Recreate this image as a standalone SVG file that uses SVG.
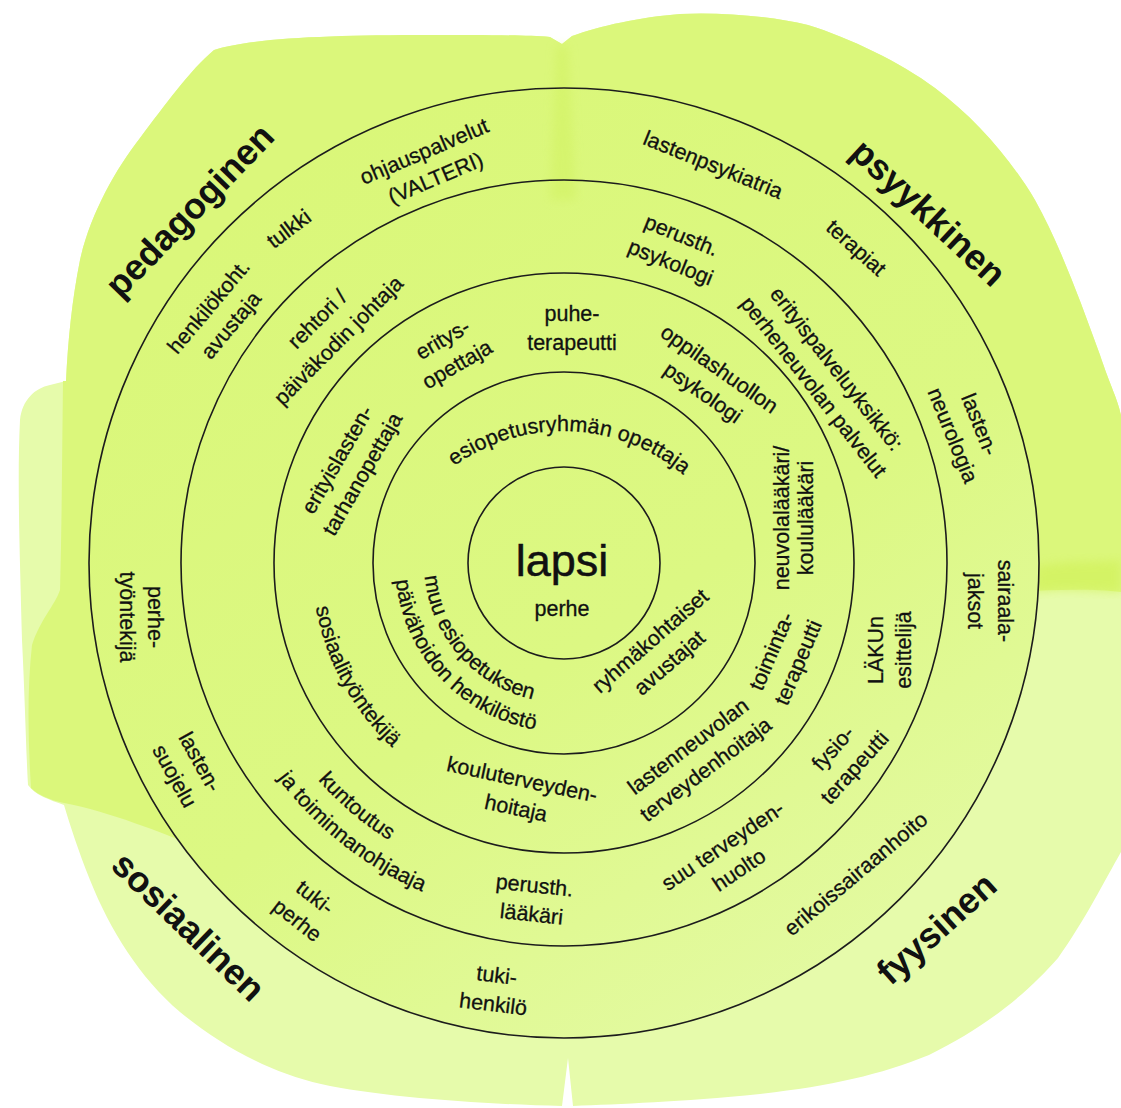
<svg xmlns="http://www.w3.org/2000/svg" width="1121" height="1108" viewBox="0 0 1121 1108">
<defs>
<style>
.light{fill:#e6fbab}
.sat{fill:#dbf77b}
.ring{fill:none;stroke:#1c1c1c;stroke-width:1.6}
.t{font-family:"Liberation Sans",Arial,sans-serif;font-size:21.5px;fill:#111;stroke:#111;stroke-width:0.3;text-anchor:middle}
.big{font-family:"Liberation Sans",Arial,sans-serif;font-size:36px;font-weight:bold;fill:#111;text-anchor:middle}
</style>
<linearGradient id="diskGrad" gradientUnits="userSpaceOnUse" x1="300" y1="150" x2="850" y2="1030">
<stop offset="0" stop-color="#daf779"/>
<stop offset="0.55" stop-color="#dcf883"/>
<stop offset="1" stop-color="#e4faa5"/>
</linearGradient>
<filter id="soft" x="-30%" y="-20%" width="160%" height="140%"><feGaussianBlur stdDeviation="5"/></filter>
<path id="p-kunt" d="M241.4,503.8 A328,328 0 0 0 674.0,872.0"/>
<path id="p-toim" d="M209.7,511.9 A358,358 0 0 0 696.9,895.4"/>
<path id="p-sosi" d="M348.9,431.7 A252,252 0 0 0 557.8,814.9"/>
<path id="p-muu" d="M431.5,517.9 A140,140 0 0 0 591.2,700.3"/>
<path id="p-paiv" d="M402.4,513.6 A169,169 0 0 0 602.0,727.7"/>
<path id="p-esio" d="M404.8,518.4 A187,187 0 0 1 728.4,530.8"/>
</defs>

<g id="background">
<path class="light" d="M550,37 L562,44 L572,36 C600,26 640,17 680,14 C720,12 770,16 808,25 C850,38 900,62 935,88 C975,118 1010,158 1035,200 C1060,245 1080,300 1100,355 C1110,385 1118,400 1121,415 L1121,852 C1105,880 1085,920 1058,958 C1030,990 990,1025 929,1055 C880,1075 830,1086 760,1094 C680,1102 620,1104 573,1106 L568,1058 L562,1106 C480,1104 380,1097 321,1084 C270,1073 220,1045 180,1012 C140,978 110,930 90,880 C78,850 70,825 64,805 C50,800 35,795 28,785 C26,750 25,700 22,640 C20,560 17,480 20,420 C22,400 35,388 50,385 L66,381 C68,340 72,300 80,260 C90,215 115,170 140,138 C165,105 190,70 214,50 C250,38 330,35 429,35 C480,35 525,35 550,37 Z"/>
<path class="sat" d="M550,37 L562,44 L572,36 C600,26 640,17 680,14 C720,12 770,16 808,25 C850,38 900,62 935,88 C975,118 1010,158 1035,200 C1060,245 1080,300 1100,355 C1110,385 1118,400 1121,415 L1121,592 C1090,588 1040,590 1000,593 L880,640 L300,860 L200,848 C160,832 110,812 64,803 C50,800 38,795 31,788 C28,740 27,690 32,645 C40,620 55,605 60,590 C62,520 62,450 63,381 L66,381 C68,340 72,300 80,260 C90,215 115,170 140,138 C165,105 190,70 214,50 C250,38 330,35 429,35 C480,35 525,35 550,37 Z"/>
<path d="M1036,566 C1070,560 1100,563 1121,560 L1121,592 C1090,590 1060,588 1034,592 Z" fill="#d2f25c" opacity="0.7" filter="url(#soft)"/>
<circle cx="564" cy="563" r="475" fill="url(#diskGrad)"/>
<path d="M556,46 L568,46 L576,200 L550,200 Z" fill="#d2f262" opacity="0.55" filter="url(#soft)"/>
</g>

<g id="rings">
<circle class="ring" cx="564" cy="563" r="475"/>
<circle class="ring" cx="564" cy="563" r="383"/>
<circle class="ring" cx="564" cy="563" r="290"/>
<circle class="ring" cx="564" cy="563" r="191"/>
<circle class="ring" cx="564" cy="563" r="96"/>
</g>

<g id="connectors"/>

<g id="n-lapsi"><text class="t" x="562" y="576" style="font-size:45px;stroke-width:0.5">lapsi</text><text class="t" x="562" y="616">perhe</text></g>

<g id="n-pedagoginen" transform="translate(189,210) rotate(-46)"><text class="big" x="0" y="13">pedagoginen</text></g>
<g id="n-psyykkinen" transform="translate(929,212) rotate(43)"><text class="big" x="0" y="13">psyykkinen</text></g>
<g id="n-sosiaalinen" transform="translate(189,926) rotate(44)"><text class="big" x="0" y="13">sosiaalinen</text></g>
<g id="n-fyysinen" transform="translate(936,928) rotate(-42)"><text class="big" x="0" y="13">fyysinen</text></g>

<g id="n-ohjaus" transform="translate(430,165) rotate(-23)"><text class="t"><tspan x="0" y="-7.5">ohjauspalvelut</tspan><tspan x="0" y="21.5">(VALTERI)</tspan></text></g>
<g id="n-tulkki" transform="translate(289,229) rotate(-37)"><text class="t" x="0" y="7">tulkki</text></g>
<g id="n-henkilokoht" transform="translate(220,316) rotate(-50)"><text class="t"><tspan x="0" y="-7.5">henkilökoht.</tspan><tspan x="0" y="21.5">avustaja</tspan></text></g>
<g id="n-rehtori" transform="translate(328,330) rotate(-45)"><text class="t"><tspan x="0" y="-8">rehtori /</tspan><tspan x="0" y="22">päiväkodin johtaja</tspan></text></g>
<g id="n-eritys" transform="translate(450,352) rotate(-30)"><text class="t"><tspan x="0" y="-7.5">eritys-</tspan><tspan x="0" y="21.5">opettaja</tspan></text></g>
<g id="n-erityislasten" transform="translate(350,467) rotate(-60)"><text class="t"><tspan x="0" y="-7.5">erityislasten-</tspan><tspan x="0" y="21.5">tarhanopettaja</tspan></text></g>
<g id="n-puhe"><text class="t"><tspan x="572" y="320.5">puhe-</tspan><tspan x="572" y="349.5">terapeutti</tspan></text></g>

<g id="n-lastenpsykiatria" transform="translate(713,165) rotate(22)"><text class="t" x="0" y="7">lastenpsykiatria</text></g>
<g id="n-terapiat" transform="translate(856,248) rotate(42)"><text class="t" x="0" y="7">terapiat</text></g>
<g id="n-perusth-psyk" transform="translate(676,249) rotate(22)"><text class="t"><tspan x="0" y="-7.5">perusth.</tspan><tspan x="0" y="21.5">psykologi</tspan></text></g>
<g id="n-erityispalvelu" transform="translate(825,378) rotate(52)"><text class="t"><tspan x="0" y="-7.5">erityispalveluyksikkö:</tspan><tspan x="0" y="21.5">perheneuvolan palvelut</tspan></text></g>
<g id="n-oppilashuolto" transform="translate(711,381) rotate(35)"><text class="t"><tspan x="0" y="-7.5">oppilashuollon</tspan><tspan x="0" y="21.5">psykologi</tspan></text></g>
<g id="n-neurologia" transform="translate(966,430) rotate(68)"><text class="t"><tspan x="0" y="-7.5">lasten-</tspan><tspan x="0" y="21.5">neurologia</tspan></text></g>
<g id="n-esiopetus"><text class="t"><textPath href="#p-esio" startOffset="50%">esiopetusryhmän opettaja</textPath></text></g>

<g id="n-neuvolalaakari" transform="translate(794,518) rotate(-90)"><text class="t"><tspan x="0" y="-5">neuvolalääkäri/</tspan><tspan x="0" y="19">koululääkäri</tspan></text></g>
<g id="n-sairaala" transform="translate(990,601) rotate(90)"><text class="t"><tspan x="0" y="-8">sairaala-</tspan><tspan x="0" y="22">jaksot</tspan></text></g>
<g id="n-laku" transform="translate(890,650) rotate(-90)"><text class="t"><tspan x="0" y="-7">LÄKUn</tspan><tspan x="0" y="21">esittelijä</tspan></text></g>
<g id="n-toiminta" transform="translate(785,657) rotate(-67)"><text class="t"><tspan x="0" y="-7.5">toiminta-</tspan><tspan x="0" y="21.5">terapeutti</tspan></text></g>
<g id="n-ryhma" transform="translate(660,652) rotate(-41)"><text class="t"><tspan x="0" y="-7.5">ryhmäkohtaiset</tspan><tspan x="0" y="21.5">avustajat</tspan></text></g>
<g id="n-lastenneuvola" transform="translate(697,758) rotate(-37)"><text class="t"><tspan x="0" y="-7.5">lastenneuvolan</tspan><tspan x="0" y="21.5">terveydenhoitaja</tspan></text></g>
<g id="n-fysio" transform="translate(844,758) rotate(-48)"><text class="t"><tspan x="0" y="-7.5">fysio-</tspan><tspan x="0" y="21.5">terapeutti</tspan></text></g>
<g id="n-suu" transform="translate(731,858) rotate(-34)"><text class="t"><tspan x="0" y="-7.5">suu terveyden-</tspan><tspan x="0" y="21.5">huolto</tspan></text></g>
<g id="n-erikois" transform="translate(856,874) rotate(-40)"><text class="t" x="0" y="7">erikoissairaanhoito</text></g>

<g id="n-tukihenkilo" transform="translate(495,990) rotate(7)"><text class="t"><tspan x="0" y="-7.5">tuki-</tspan><tspan x="0" y="21.5">henkilö</tspan></text></g>
<g id="n-perusth-laak" transform="translate(533,900) rotate(6)"><text class="t"><tspan x="0" y="-7.5">perusth.</tspan><tspan x="0" y="21.5">lääkäri</tspan></text></g>
<g id="n-kouluterveys" transform="translate(519,794) rotate(12)"><text class="t"><tspan x="0" y="-7.5">kouluterveyden-</tspan><tspan x="0" y="21.5">hoitaja</tspan></text></g>
<g id="n-kuntoutus"><text class="t"><textPath href="#p-kunt" startOffset="50%">kuntoutus</textPath></text><text class="t"><textPath href="#p-toim" startOffset="50%">ja toiminnanohjaaja</textPath></text></g>
<g id="n-sosiaalityo"><text class="t"><textPath href="#p-sosi" startOffset="50%">sosiaalityöntekijä</textPath></text></g>
<g id="n-muu"><text class="t"><textPath href="#p-muu" startOffset="50%">muu esiopetuksen</textPath></text><text class="t"><textPath href="#p-paiv" startOffset="50%">päivähoidon henkilöstö</textPath></text></g>
<g id="n-perhetyo" transform="translate(141,617) rotate(90)"><text class="t"><tspan x="0" y="-7">perhe-</tspan><tspan x="0" y="21">työntekijä</tspan></text></g>
<g id="n-lastensuojelu" transform="translate(187,769) rotate(61)"><text class="t"><tspan x="0" y="-7.5">lasten-</tspan><tspan x="0" y="21.5">suojelu</tspan></text></g>
<g id="n-tukiperhe" transform="translate(306,909) rotate(38)"><text class="t"><tspan x="0" y="-7.5">tuki-</tspan><tspan x="0" y="21.5">perhe</tspan></text></g>
</svg>
